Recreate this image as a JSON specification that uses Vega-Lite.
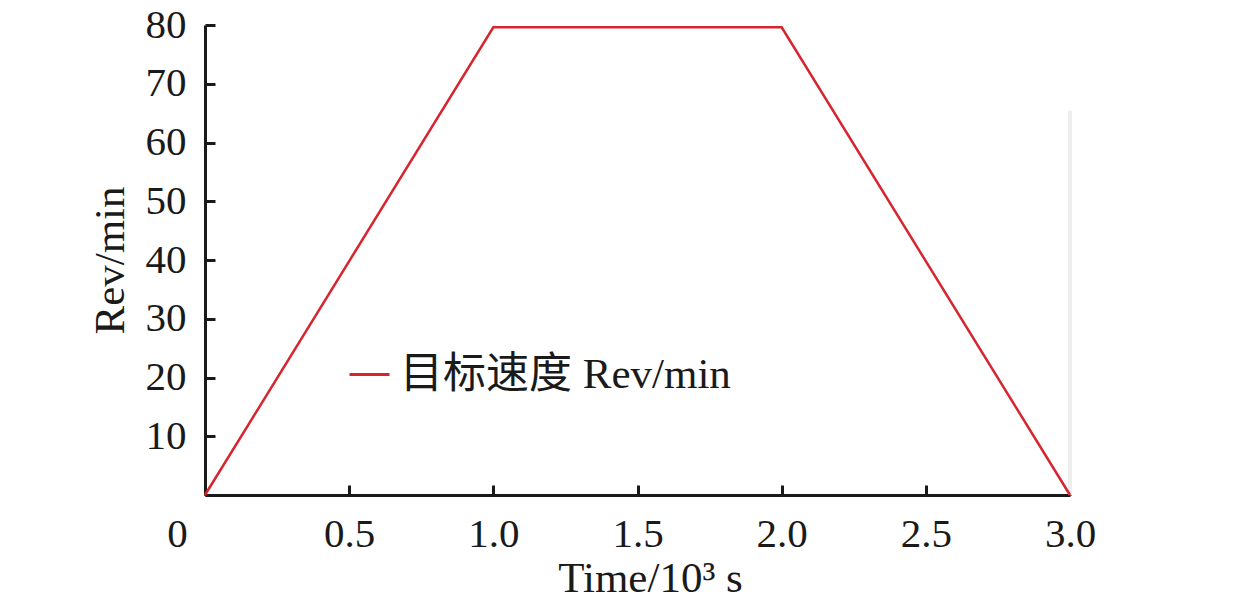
{
  "$schema": "https://vega.github.io/schema/vega-lite/v6.json",
  "autosize": {"type": "none"},
  "width": 865,
  "height": 470,
  "padding": {"left": 205, "top": 25, "right": 189, "bottom": 113},
  "background": "white",
  "config": {
    "view": {"stroke": null},
    "font": "Liberation Serif",
    "axis": {
      "grid": false,
      "domainColor": "#1a1a1a",
      "domainWidth": 3,
      "tickColor": "#1a1a1a",
      "tickWidth": 3,
      "tickSize": -10,
      "labelFlush": false,
      "labelFont": "Liberation Serif",
      "labelFontSize": 41,
      "labelColor": "#1a1a1a",
      "titleFont": "Liberation Serif",
      "titleFontSize": 43,
      "titleFontWeight": "normal",
      "titleColor": "#1a1a1a"
    }
  },
  "layer": [
    {
      "data": {"values": [{"x": 3.0, "y": 0, "y2": 65.4}]},
      "mark": {"type": "rule", "color": "#eeeeee", "strokeWidth": 4},
      "encoding": {
        "x": {"field": "x", "type": "quantitative", "scale": {"domain": [0, 3]}},
        "y": {"field": "y", "type": "quantitative", "scale": {"domain": [0, 80]}},
        "y2": {"field": "y2"}
      }
    },
    {
      "data": {
        "values": [
          {"t": 0.0, "rev": 0, "series": "目标速度 Rev/min"},
          {"t": 1.0, "rev": 79.6, "series": "目标速度 Rev/min"},
          {"t": 2.0, "rev": 79.6, "series": "目标速度 Rev/min"},
          {"t": 3.0, "rev": 0, "series": "目标速度 Rev/min"}
        ]
      },
      "mark": {"type": "line", "strokeWidth": 2.5, "clip": false},
      "encoding": {
        "x": {
          "field": "t",
          "type": "quantitative",
          "scale": {"domain": [0, 3], "nice": false, "zero": true},
          "axis": {
            "title": "Time/10³ s",
            "titleX": 445,
            "values": [0, 0.5, 1, 1.5, 2, 2.5, 3],
            "labelExpr": "datum.value == 0 ? '0' : format(datum.value, '.1f')",
            "labelOffset": {"condition": {"test": "datum.value == 0", "value": -28}, "value": 0},
            "labelPadding": 29,
            "titlePadding": 3
          }
        },
        "y": {
          "field": "rev",
          "type": "quantitative",
          "scale": {"domain": [0, 80], "nice": false},
          "axis": {
            "title": "Rev/min",
            "values": [0, 10, 20, 30, 40, 50, 60, 70, 80],
            "labelExpr": "datum.value == 0 ? '' : datum.label",
            "labelPadding": 29,
            "titlePadding": 13
          }
        },
        "color": {
          "field": "series",
          "type": "nominal",
          "scale": {"range": ["#d7252f"]},
          "legend": {
            "title": null,
            "orient": "none",
            "legendX": 143,
            "legendY": 328,
            "symbolType": "stroke",
            "symbolSize": 1600,
            "symbolStrokeWidth": 3,
            "labelFont": "Liberation Serif, Noto Sans CJK SC",
            "labelFontSize": 43,
            "labelColor": "#1a1a1a",
            "labelLimit": 600,
            "labelOffset": 9
          }
        }
      }
    }
  ]
}
